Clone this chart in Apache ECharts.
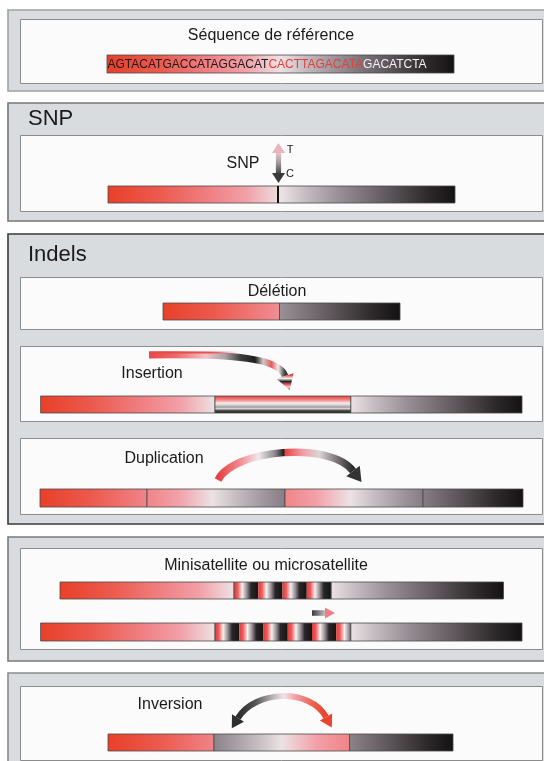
<!DOCTYPE html>
<html><head><meta charset="utf-8">
<script src="https://cdn.jsdelivr.net/npm/echarts@6/dist/echarts.min.js"></script>
<style>html,body{margin:0;padding:0;background:#fff}#c{width:544px;height:761px}</style>
</head><body><div id="c"></div>
<script>
// ---------- diagram data (diagram units = pixels of the reference) ----------
const outerPanels = [[8,10,620,91],[8,103,620,221],[8,234,620,524],[8,537,620,661],[8,673,620,820]];
const innerBoxes = [[20,19,542,83],[20,135,542,211],[20,277,542,329],[20,346,542,421],[20,438,542,514],[20,548,542,649],[20,686,542,760]];
const barRows = {ref:[55,73], snp:[186,203], del:[303,320], ins:[396,413], dup:[489,507], mini1:[582,599], mini2:[623,641], inv:[734,751]};
// [row, x0, x1, t0, t1] : t = position along the reference sequence
const segments = [
  ['ref',107,454,0,1],
  ['snp',108,455,0,1],
  ['del',163,279.5,0,0.34],['del',279.5,400,0.66,1],
  ['ins',40.6,215,0,0.5],['ins',350.7,522,0.5,1],
  ['dup',40,147,0,0.31],['dup',147,285,0.31,0.71],['dup',285,423,0.31,0.71],['dup',423,523,0.71,1],
  ['mini1',60,234,0,0.5],['mini1',331,503.5,0.5,1],
  ['mini2',40.6,215,0,0.5],['mini2',350.7,522,0.5,1],
  ['inv',108,214,0,0.305],['inv',214,349.6,0.695,0.305],['inv',349.6,453,0.695,1]
];
const insertSegments = [['ins',215,350.7]];
// [row, x0, x1, unit width]
const repeatBlocks = [['mini1',234,331,24.25],['mini2',215,350.7,24.25]];
const snpMarker = [['snp',278]];
// cubic curves [x0,y0,cx1,cy1,cx2,cy2,x1,y1]
const insArrow = [149,355,235,354,279,358,285,376];
const dupArrow = [218,480,234,449,330,441,353,471];
const invArrow = [238,718,255,690,310,688,326,717];
const snpArrow = [278.5,143,183];   // x, top tip, bottom tip
const repeatArrow = [312,335,613];  // x start, x tip, y
const seqParts = ['AGTACATGACCATAGGACAT','CACTTAGACATA','GACATCTA'];
// [text, x, y, size, align]
const labels = [
  ['Séquence de référence',271,36,16,'center'],
  ['SNP',28,119,22,'left'],
  ['SNP',243,164,16,'center'],
  ['T',290,150,11,'center'],
  ['C',290,174,11,'center'],
  ['Indels',28,255,22,'left'],
  ['Délétion',277,292,16,'center'],
  ['Insertion',152,374,16,'center'],
  ['Duplication',164,459,16,'center'],
  ['Minisatellite ou microsatellite',266,566,16,'center'],
  ['Inversion',170,705,16,'center']
];

// ---------- styles ----------
const FONT = '"Liberation Sans", Arial, sans-serif';
const mainStops = [[0,'#e8402a'],[0.15,'#ec5a4e'],[0.3,'#f08286'],[0.4,'#f2a0a8'],[0.5,'#ece2e4'],[0.57,'#c4bcc0'],[0.66,'#9a9298'],[0.8,'#625a5e'],[0.92,'#2e2a2c'],[1,'#141214']];
const unitStops = [[0,'#e03c3c'],[0.15,'#ec5a5a'],[0.34,'#f4eeee'],[0.52,'#9a9498'],[0.7,'#2a2628'],[1,'#161414']];
const insertStops = [[0,'#e84444'],[0.15,'#f06a6a'],[0.3,'#f4a8ac'],[0.42,'#f6eeee'],[0.55,'#d0cacc'],[0.65,'#a09a9c'],[0.75,'#dcd8d8'],[0.85,'#505050'],[1,'#1a1a1a']];
const panelStroke = ['#a0a0a0','#767676','#3a3a3a','#7a7a7a','#8a8a8a'];

function grad(x,y,x2,y2,stops){
  return {type:'linear',x:x,y:y,x2:x2,y2:y2,global:true,colorStops:stops.map(s=>({offset:s[0],color:s[1]}))};
}
function idx(arr){return arr.map((_,i)=>i);}

function arrowParts(api, c, width, stops, heads, headFills, hw, hl){
  const P = [];
  for(let i=0;i<4;i++) P.push(api.coord([c[2*i],c[2*i+1]]));
  const xs = P.map(p=>p[0]);
  const children = [{type:'bezierCurve',shape:{x1:P[0][0],y1:P[0][1],cpx1:P[1][0],cpy1:P[1][1],cpx2:P[2][0],cpy2:P[2][1],x2:P[3][0],y2:P[3][1]},
    style:{fill:'none',stroke:grad(Math.min(...xs),0,Math.max(...xs),0,stops),lineWidth:width}}];
  function head(E,F,fill){
    let dx=E[0]-F[0], dy=E[1]-F[1]; const L=Math.hypot(dx,dy); dx/=L; dy/=L;
    const nx=-dy, ny=dx;
    return {type:'polygon',shape:{points:[[E[0]+nx*hw,E[1]+ny*hw],[E[0]+dx*hl,E[1]+dy*hl],[E[0]-nx*hw,E[1]-ny*hw]]},style:{fill:fill}};
  }
  if(heads.indexOf('end')>=0) children.push(head(P[3],P[2],headFills.end));
  if(heads.indexOf('start')>=0) children.push(head(P[0],P[1],headFills.start));
  return children;
}

const chart = echarts.init(document.getElementById('c'), null, {renderer:'canvas'});
const base = {type:'custom', coordinateSystem:'cartesian2d', silent:true, animation:false};
chart.setOption({
  animation:false,
  grid:{left:0,right:0,top:0,bottom:0},
  xAxis:{type:'value',min:0,max:544,show:false},
  yAxis:{type:'value',min:0,max:761,inverse:true,show:false},
  series:[
    Object.assign({}, base, {data:idx(outerPanels), renderItem:(p,api)=>{
      const b=outerPanels[p.dataIndex]; const a=api.coord([b[0],b[1]]), c=api.coord([b[2],b[3]]);
      return {type:'rect',shape:{x:a[0],y:a[1],width:c[0]-a[0],height:c[1]-a[1]},style:{fill:'#d9dcdf',stroke:panelStroke[p.dataIndex],lineWidth:1.6}};
    }}),
    Object.assign({}, base, {data:idx(innerBoxes), renderItem:(p,api)=>{
      const b=innerBoxes[p.dataIndex]; const a=api.coord([b[0],b[1]]), c=api.coord([b[2],b[3]]);
      return {type:'rect',shape:{x:a[0]+0.5,y:a[1]+0.5,width:c[0]-a[0],height:c[1]-a[1]},style:{fill:'#fbfbfb',stroke:'#8c8c8c',lineWidth:1}};
    }}),
    Object.assign({}, base, {data:idx(segments), renderItem:(p,api)=>{
      const s=segments[p.dataIndex], r=barRows[s[0]];
      const a=api.coord([s[1],r[0]]), c=api.coord([s[2],r[1]]);
      const w=c[0]-a[0], k=w/(s[4]-s[3]); const g0=a[0]-s[3]*k;
      return {type:'rect',shape:{x:a[0],y:a[1],width:w,height:c[1]-a[1]},style:{fill:grad(g0,0,g0+k,0,mainStops),stroke:'#4a4a4a',lineWidth:0.8}};
    }}),
    Object.assign({}, base, {data:idx(insertSegments), renderItem:(p,api)=>{
      const s=insertSegments[p.dataIndex], r=barRows[s[0]];
      const a=api.coord([s[1],r[0]]), c=api.coord([s[2],r[1]]);
      return {type:'rect',shape:{x:a[0],y:a[1],width:c[0]-a[0],height:c[1]-a[1]},style:{fill:grad(0,a[1],0,c[1],insertStops),stroke:'#4a4a4a',lineWidth:0.8}};
    }}),
    Object.assign({}, base, {data:idx(repeatBlocks), renderItem:(p,api)=>{
      const s=repeatBlocks[p.dataIndex], r=barRows[s[0]];
      const kids=[];
      for(let x=s[1]; x<s[2]-0.5; x+=s[3]){
        const xe=Math.min(x+s[3],s[2]);
        const a=api.coord([x,r[0]]), c=api.coord([xe,r[1]]), u=api.coord([x+s[3],r[1]]);
        kids.push({type:'rect',shape:{x:a[0],y:a[1],width:c[0]-a[0],height:c[1]-a[1]},style:{fill:grad(a[0],0,u[0],0,unitStops)}});
      }
      const a=api.coord([s[1],r[0]]), c=api.coord([s[2],r[1]]);
      kids.push({type:'rect',shape:{x:a[0],y:a[1],width:c[0]-a[0],height:c[1]-a[1]},style:{fill:'none',stroke:'#4a4a4a',lineWidth:0.8}});
      return {type:'group',children:kids};
    }}),
    Object.assign({}, base, {data:idx(snpMarker), renderItem:(p,api)=>{
      const s=snpMarker[p.dataIndex], r=barRows[s[0]];
      const a=api.coord([s[1],r[0]]), c=api.coord([s[1],r[1]]);
      return {type:'line',shape:{x1:a[0],y1:a[1],x2:c[0],y2:c[1]},style:{stroke:'#111',lineWidth:2}};
    }}),
    // sequence text
    Object.assign({}, base, {data:[0], renderItem:(p,api)=>{
      const r=barRows.ref; const a=api.coord([107.5,(r[0]+r[1])/2]);
      return {type:'text',x:a[0],y:a[1]+0.5,style:{text:'{a|'+seqParts[0]+'}{b|'+seqParts[1]+'}{c|'+seqParts[2]+'}',
        fontSize:12,fontFamily:FONT,align:'left',verticalAlign:'middle',
        rich:{a:{fill:'#1e1a1a',fontSize:12,fontFamily:FONT},b:{fill:'#e2403a',fontSize:12,fontFamily:FONT},c:{fill:'#f4f2f2',fontSize:12,fontFamily:FONT}}}};
    }}),
    // arrows
    Object.assign({}, base, {data:[0], renderItem:(p,api)=>{
      const kids = arrowParts(api, insArrow, 7,
        [[0,'#e84848'],[0.2,'#ec6a6a'],[0.42,'#f0c4c8'],[0.56,'#a8a2a6'],[0.68,'#3a3a3a'],[0.78,'#1e1e1e'],[0.84,'#cfcaca'],[0.9,'#e85a5a'],[0.95,'#f2eeee'],[1,'#3a3a3a']],
        ['end'], {end:grad(0,372,0,391,[[0,'#2a2a2a'],[0.18,'#e85050'],[0.34,'#f4f0f0'],[0.5,'#262626'],[0.66,'#e86060'],[0.8,'#dddddd'],[1,'#3a3a3a']])}, 9, 15);
      const a=api.coord([insArrow[0],insArrow[1]-2.6]), b=api.coord([238,insArrow[1]-2.4]);
      kids.push({type:'line',shape:{x1:a[0],y1:a[1],x2:b[0],y2:b[1]},style:{stroke:grad(a[0],0,b[0],0,[[0,'#e84848'],[0.7,'#e85050'],[1,'rgba(232,80,80,0)']]),lineWidth:2}});
      return {type:'group',children:kids};
    }}),
    Object.assign({}, base, {data:[0], renderItem:(p,api)=>({type:'group',children:arrowParts(api, dupArrow, 7.5,
      [[0,'#e84040'],[0.16,'#f08a90'],[0.3,'#f0e8ea'],[0.42,'#908a8e'],[0.49,'#1a1a1a'],[0.495,'#e84040'],[0.62,'#f09aa0'],[0.75,'#dcd6d8'],[0.88,'#7a7478'],[1,'#2a2a2a']],
      ['end'], {end:'#333333'}, 8.5, 14)})}),
    Object.assign({}, base, {data:[0], renderItem:(p,api)=>({type:'group',children:arrowParts(api, invArrow, 6,
      [[0,'#2a2a2a'],[0.2,'#555555'],[0.4,'#bdb6ba'],[0.52,'#f2e4e6'],[0.65,'#f2a0a8'],[0.85,'#ec6050'],[1,'#e8402a']],
      ['start','end'], {start:'#2e2e2e', end:'#e8442e'}, 7, 12)})}),
    // SNP double arrow
    Object.assign({}, base, {data:[0], renderItem:(p,api)=>{
      const t=api.coord([snpArrow[0],snpArrow[1]]), b=api.coord([snpArrow[0],snpArrow[2]]);
      const x=t[0], hl=10, hw=6.5;
      return {type:'group',children:[
        {type:'rect',shape:{x:x-2.6,y:t[1]+hl-1,width:5.2,height:b[1]-t[1]-2*hl+2},style:{fill:grad(0,t[1]+hl,0,b[1]-hl,[[0,'#e6c4c8'],[0.45,'#a8a0a4'],[1,'#4a4a4a']])}},
        {type:'polygon',shape:{points:[[x-hw,t[1]+hl],[x,t[1]],[x+hw,t[1]+hl]]},style:{fill:'#e8b4ba'}},
        {type:'polygon',shape:{points:[[x-hw,b[1]-hl],[x,b[1]],[x+hw,b[1]-hl]]},style:{fill:'#3a3a3a'}}
      ]};
    }}),
    // repeat expansion arrow
    Object.assign({}, base, {data:[0], renderItem:(p,api)=>{
      const s=api.coord([repeatArrow[0],repeatArrow[2]]), e=api.coord([repeatArrow[1],repeatArrow[2]]);
      const hb=e[0]-10;
      return {type:'group',children:[
        {type:'rect',shape:{x:s[0],y:s[1]-2.8,width:hb-s[0],height:5.6},style:{fill:grad(s[0],0,hb,0,[[0,'#3a3a3a'],[0.6,'#8a8a8a'],[1,'#c8b8bc']])}},
        {type:'polygon',shape:{points:[[hb,s[1]-5.5],[e[0],s[1]],[hb,s[1]+5.5]]},style:{fill:'#f07e86'}}
      ]};
    }}),
    // labels
    Object.assign({}, base, {data:idx(labels), renderItem:(p,api)=>{
      const l=labels[p.dataIndex]; const a=api.coord([l[1],l[2]]);
      return {type:'text',x:a[0],y:a[1],style:{text:l[0],fontSize:l[3],fontFamily:FONT,fill:'#1a1a1a',align:l[4],verticalAlign:'middle'}};
    }})
  ]
});
</script>
</body></html>
